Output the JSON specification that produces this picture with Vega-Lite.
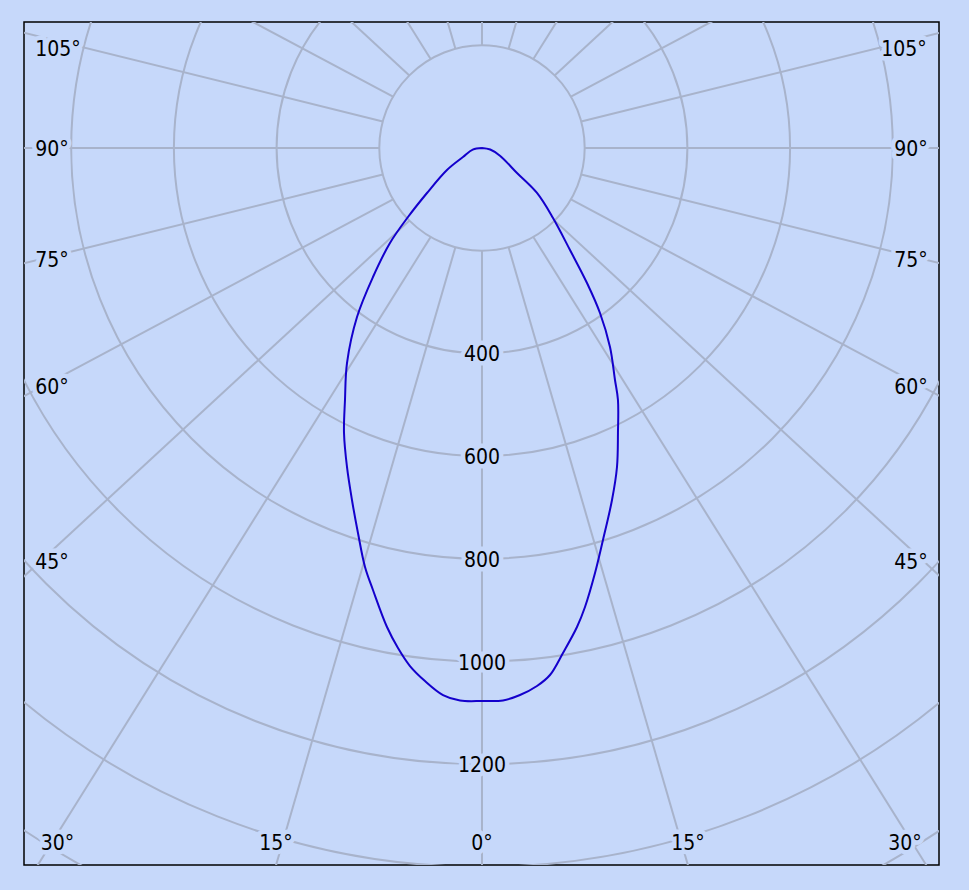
{
  "$schema": "https://vega.github.io/schema/vega-lite/v6.json",
  "width": 915,
  "height": 843,
  "autosize": {"type": "none"},
  "padding": {"left": 24, "top": 22, "right": 30, "bottom": 25},
  "background": "#c6d8fa",
  "config": {
    "view": {"stroke": "#000000", "strokeWidth": 1.5, "fill": "#c6d8fa"}
  },
  "datasets": {
    "circles": [
      {"intensity": 200}, {"intensity": 400}, {"intensity": 600}, {"intensity": 800},
      {"intensity": 1000}, {"intensity": 1200}, {"intensity": 1400}, {"intensity": 1600}
    ],
    "rays": [
      {"angle": 0, "x": 0, "y": -200, "x2": 0, "y2": -2000},
      {"angle": 15, "x": -51.76, "y": -193.19, "x2": -556.46, "y2": -1931.85},
      {"angle": 15, "x": 51.76, "y": -193.19, "x2": 556.46, "y2": -1931.85},
      {"angle": 30, "x": -100, "y": -173.21, "x2": -1075, "y2": -1732.05},
      {"angle": 30, "x": 100, "y": -173.21, "x2": 1075, "y2": -1732.05},
      {"angle": 45, "x": -141.42, "y": -141.42, "x2": -1520.28, "y2": -1414.21},
      {"angle": 45, "x": 141.42, "y": -141.42, "x2": 1520.28, "y2": -1414.21},
      {"angle": 60, "x": -173.21, "y": -100, "x2": -1861.95, "y2": -1000},
      {"angle": 60, "x": 173.21, "y": -100, "x2": 1861.95, "y2": -1000},
      {"angle": 75, "x": -193.19, "y": -51.76, "x2": -2076.74, "y2": -517.64},
      {"angle": 75, "x": 193.19, "y": -51.76, "x2": 2076.74, "y2": -517.64},
      {"angle": 90, "x": -200, "y": 0, "x2": -2150, "y2": 0},
      {"angle": 90, "x": 200, "y": 0, "x2": 2150, "y2": 0},
      {"angle": 105, "x": -193.19, "y": 51.76, "x2": -2076.74, "y2": 517.64},
      {"angle": 105, "x": 193.19, "y": 51.76, "x2": 2076.74, "y2": 517.64},
      {"angle": 120, "x": -173.21, "y": 100, "x2": -1861.95, "y2": 1000},
      {"angle": 120, "x": 173.21, "y": 100, "x2": 1861.95, "y2": 1000},
      {"angle": 135, "x": -141.42, "y": 141.42, "x2": -1520.28, "y2": 1414.21},
      {"angle": 135, "x": 141.42, "y": 141.42, "x2": 1520.28, "y2": 1414.21},
      {"angle": 150, "x": -100, "y": 173.21, "x2": -1075, "y2": 1732.05},
      {"angle": 150, "x": 100, "y": 173.21, "x2": 1075, "y2": 1732.05},
      {"angle": 165, "x": -51.76, "y": 193.19, "x2": -556.46, "y2": 1931.85},
      {"angle": 165, "x": 51.76, "y": 193.19, "x2": 556.46, "y2": 1931.85},
      {"angle": 180, "x": 0, "y": 200, "x2": 0, "y2": 2000}
    ],
    "curve": [
      {"i": 1, "x": 0, "y": 0},
      {"i": 2, "x": -18, "y": -3},
      {"i": 3, "x": -37, "y": -17.5},
      {"i": 4, "x": -68.2, "y": -42.8},
      {"i": 5, "x": -107.1, "y": -87.6},
      {"i": 6, "x": -144.1, "y": -134.4},
      {"i": 7, "x": -179.2, "y": -185.0},
      {"i": 8, "x": -212.3, "y": -251.2},
      {"i": 9, "x": -243.4, "y": -329.1},
      {"i": 10, "x": -262.9, "y": -418.7},
      {"i": 11, "x": -266.8, "y": -490.7},
      {"i": 12, "x": -268.7, "y": -555.0},
      {"i": 13, "x": -262.9, "y": -621.2},
      {"i": 14, "x": -253.2, "y": -685.5},
      {"i": 15, "x": -241.5, "y": -749.7},
      {"i": 16, "x": -227.8, "y": -816.0},
      {"i": 17, "x": -212.3, "y": -860.7},
      {"i": 18, "x": -185.0, "y": -932.8},
      {"i": 19, "x": -163.6, "y": -973.7},
      {"i": 20, "x": -140.2, "y": -1008.8},
      {"i": 21, "x": -111.0, "y": -1038.0},
      {"i": 22, "x": -75.9, "y": -1065.3},
      {"i": 23, "x": -42.8, "y": -1075.9},
      {"i": 24, "x": 0, "y": -1076.9},
      {"i": 25, "x": 40.9, "y": -1075.9},
      {"i": 26, "x": 74.0, "y": -1065.3},
      {"i": 27, "x": 107.1, "y": -1047.7},
      {"i": 28, "x": 132.4, "y": -1026.3},
      {"i": 29, "x": 157.7, "y": -983.4},
      {"i": 30, "x": 185.0, "y": -932.8},
      {"i": 31, "x": 200.6, "y": -893.9},
      {"i": 32, "x": 220.1, "y": -827.7},
      {"i": 33, "x": 235.6, "y": -763.4},
      {"i": 34, "x": 253.2, "y": -685.5},
      {"i": 35, "x": 262.9, "y": -621.2},
      {"i": 36, "x": 264.8, "y": -555.0},
      {"i": 37, "x": 264.8, "y": -490.7},
      {"i": 38, "x": 259.0, "y": -451.8},
      {"i": 39, "x": 249.3, "y": -387.5},
      {"i": 40, "x": 229.8, "y": -321.3},
      {"i": 41, "x": 204.5, "y": -262.9},
      {"i": 42, "x": 171.4, "y": -198.6},
      {"i": 43, "x": 138.3, "y": -136.3},
      {"i": 44, "x": 107.1, "y": -87.6},
      {"i": 45, "x": 68.2, "y": -48.7},
      {"i": 46, "x": 35, "y": -15},
      {"i": 47, "x": 16, "y": -3},
      {"i": 48, "x": 0, "y": 0}
    ],
    "labels": [
      {"text": "105°", "x": -825.7, "y": 194.7},
      {"text": "90°", "x": -837.4, "y": 0},
      {"text": "75°", "x": -837.4, "y": -216.2},
      {"text": "60°", "x": -837.4, "y": -463.5},
      {"text": "45°", "x": -837.4, "y": -804.3},
      {"text": "105°", "x": 821.8, "y": 194.7},
      {"text": "90°", "x": 835.4, "y": 0},
      {"text": "75°", "x": 835.4, "y": -216.2},
      {"text": "60°", "x": 835.4, "y": -463.5},
      {"text": "45°", "x": 835.4, "y": -804.3},
      {"text": "30°", "x": -826.7, "y": -1351.5},
      {"text": "15°", "x": -401.2, "y": -1351.5},
      {"text": "0°", "x": 0, "y": -1351.5},
      {"text": "15°", "x": 401.2, "y": -1351.5},
      {"text": "30°", "x": 823.7, "y": -1351.5},
      {"text": "400", "x": 0, "y": -400},
      {"text": "600", "x": 0, "y": -600},
      {"text": "800", "x": 0, "y": -800},
      {"text": "1000", "x": 0, "y": -1000},
      {"text": "1200", "x": 0, "y": -1200}
    ]
  },
  "layer": [
    {
      "data": {"name": "circles"},
      "mark": {"type": "point", "shape": "circle", "filled": false, "stroke": "#a8b3cb", "strokeWidth": 2, "opacity": 1, "clip": true},
      "encoding": {
        "x": {"datum": 0, "type": "quantitative", "scale": {"domain": [-891.9, 890.0], "nice": false, "zero": false}, "axis": null},
        "y": {"datum": 0, "type": "quantitative", "scale": {"domain": [-1396.3, 245.4], "nice": false, "zero": false}, "axis": null},
        "size": {"field": "intensity", "type": "quantitative", "scale": {"type": "pow", "exponent": 2, "domain": [0, 1600], "range": [0, 2700109]}, "legend": null}
      }
    },
    {
      "data": {"name": "rays"},
      "mark": {"type": "rule", "stroke": "#a8b3cb", "strokeWidth": 2, "clip": true},
      "encoding": {
        "x": {"field": "x", "type": "quantitative", "scale": {"domain": [-891.9, 890.0], "nice": false, "zero": false}, "axis": null},
        "y": {"field": "y", "type": "quantitative", "scale": {"domain": [-1396.3, 245.4], "nice": false, "zero": false}, "axis": null},
        "x2": {"field": "x2"},
        "y2": {"field": "y2"}
      }
    },
    {
      "data": {"name": "curve"},
      "mark": {"type": "line", "stroke": "#1400cc", "strokeWidth": 2, "clip": true, "interpolate": "catmull-rom", "strokeJoin": "round"},
      "encoding": {
        "x": {"field": "x", "type": "quantitative", "scale": {"domain": [-891.9, 890.0], "nice": false, "zero": false}, "axis": null},
        "y": {"field": "y", "type": "quantitative", "scale": {"domain": [-1396.3, 245.4], "nice": false, "zero": false}, "axis": null},
        "order": {"field": "i", "type": "quantitative"}
      }
    },
    {
      "data": {"name": "labels"},
      "mark": {"type": "text", "font": "DejaVu Sans Condensed, DejaVu Sans", "fontSize": 21, "align": "center", "baseline": "middle", "dy": 2, "stroke": "#c6d8fa", "strokeWidth": 9, "strokeJoin": "round", "fill": "#c6d8fa"},
      "encoding": {
        "x": {"field": "x", "type": "quantitative", "scale": {"domain": [-891.9, 890.0], "nice": false, "zero": false}, "axis": null},
        "y": {"field": "y", "type": "quantitative", "scale": {"domain": [-1396.3, 245.4], "nice": false, "zero": false}, "axis": null},
        "text": {"field": "text", "type": "nominal"}
      }
    },
    {
      "data": {"name": "labels"},
      "mark": {"type": "text", "font": "DejaVu Sans Condensed, DejaVu Sans", "fontSize": 21, "align": "center", "baseline": "middle", "dy": 2, "fill": "#000000"},
      "encoding": {
        "x": {"field": "x", "type": "quantitative", "scale": {"domain": [-891.9, 890.0], "nice": false, "zero": false}, "axis": null},
        "y": {"field": "y", "type": "quantitative", "scale": {"domain": [-1396.3, 245.4], "nice": false, "zero": false}, "axis": null},
        "text": {"field": "text", "type": "nominal"}
      }
    }
  ]
}
